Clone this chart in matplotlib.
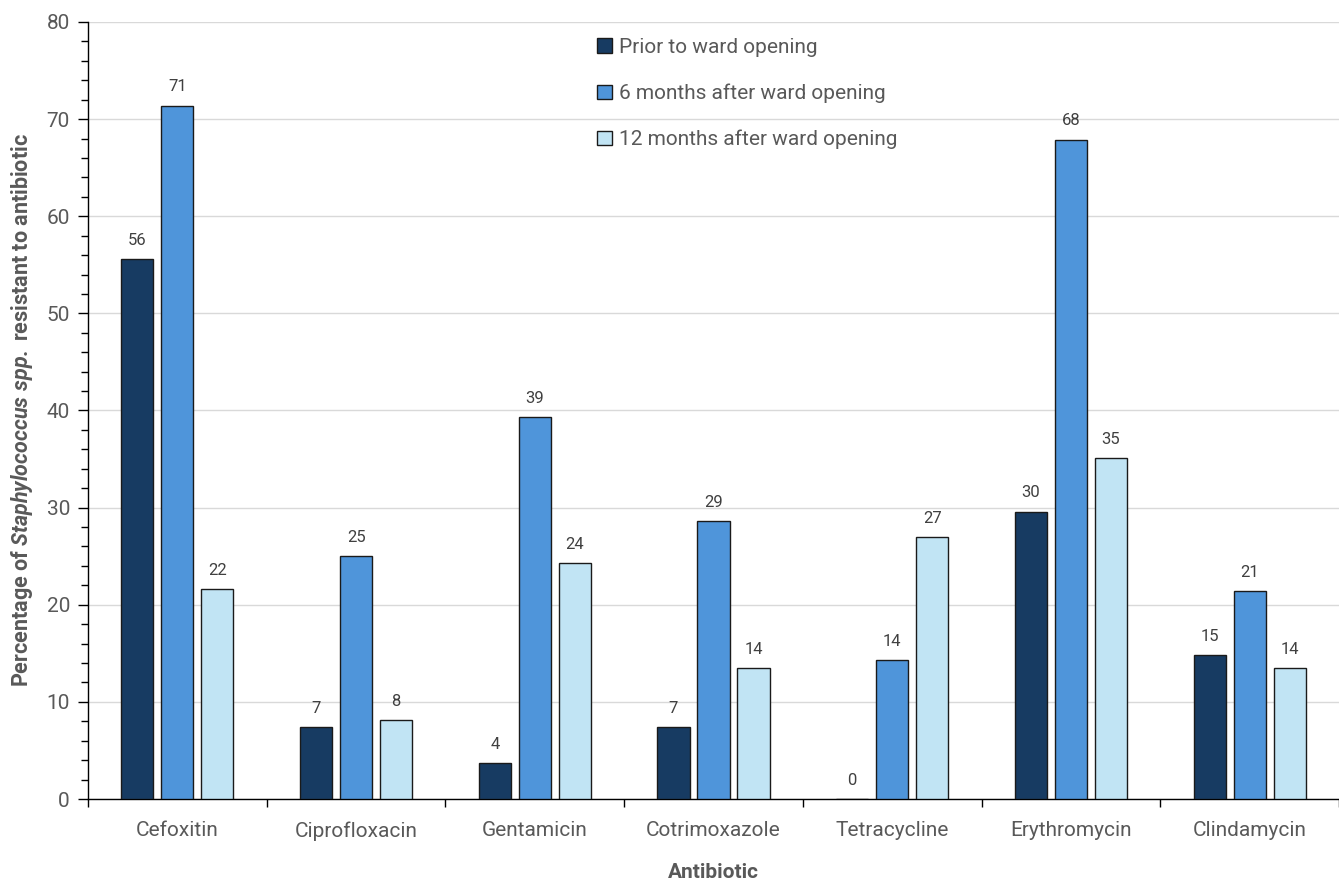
import matplotlib
matplotlib.use("Agg")
import matplotlib.pyplot as plt
import numpy as np
from matplotlib.ticker import MultipleLocator

plt.rcParams['font.family'] = ['Roboto', 'DejaVu Sans']
plt.rcParams['mathtext.fontset'] = 'custom'
plt.rcParams['mathtext.it'] = 'Roboto:italic:bold'
plt.rcParams['mathtext.rm'] = 'Roboto:bold'

categories = ["Cefoxitin", "Ciprofloxacin", "Gentamicin", "Cotrimoxazole",
              "Tetracycline", "Erythromycin", "Clindamycin"]
series_names = ["Prior to ward opening", "6 months after ward opening",
                "12 months after ward opening"]
prior = [55.6, 7.4, 3.7, 7.4, 0.0, 29.6, 14.8]
six_months = [71.4, 25.0, 39.3, 28.6, 14.3, 67.9, 21.4]
twelve_months = [21.6, 8.1, 24.3, 13.5, 27.0, 35.1, 13.5]
colors = ["#173B62", "#4F95DA", "#C1E4F4"]

text_color = "#595959"

fig = plt.figure(figsize=(13.39, 8.8), dpi=100)
ax = fig.add_axes([88/1339, 81/880, 1 - 88/1339, (799-22)/880])

x = np.arange(len(categories))
bw = 0.18
step = 0.224
for i, (vals, name, col) in enumerate(zip([prior, six_months, twelve_months], series_names, colors)):
    pos = x + (i - 1) * step
    ax.bar(pos, vals, width=bw, color=col, edgecolor="#1a1a1a", linewidth=1.0,
           label=name, zorder=3)
    for xp, v in zip(pos, vals):
        ax.annotate(f"{v:.0f}", (xp, v), xytext=(0, 8), textcoords="offset points",
                    ha="center", va="bottom", fontsize=12, color="#404040")

ax.set_xlim(-0.5, len(categories) - 0.5)
ax.set_ylim(0, 80)
ax.yaxis.set_major_locator(MultipleLocator(10))
ax.yaxis.set_minor_locator(MultipleLocator(2))
ax.grid(axis="y", which="major", color="#D9D9D9", linewidth=1.0, zorder=0)
ax.set_axisbelow(True)

ax.set_xticks(x)
ax.set_xticklabels(categories)
ax.set_xticks(np.arange(len(categories) + 1) - 0.5, minor=True)
ax.tick_params(axis="x", which="major", length=0, pad=16, labelsize=15, labelcolor=text_color)
ax.tick_params(axis="x", which="minor", length=6, width=1, direction="out", color="black")
ax.tick_params(axis="y", which="major", length=7, width=1, direction="out", labelsize=15,
               labelcolor=text_color, pad=6)
ax.tick_params(axis="y", which="minor", length=5, width=1, direction="out")

for s in ["top", "right"]:
    ax.spines[s].set_visible(False)
for s in ["left", "bottom"]:
    ax.spines[s].set_color("black")
    ax.spines[s].set_linewidth(1.0)

ax.set_xlabel("Antibiotic", fontsize=15, fontweight="bold", color=text_color, va="center")
ax.xaxis.set_label_coords(0.5, -73/777)
ax.set_ylabel(r"Percentage of $\mathit{Staphylococcus\ spp.}$ resistant to antibiotic",
              fontsize=15.5, fontweight="bold", color=text_color, va="center")
ax.yaxis.set_label_coords(-66/1251, 0.5)

leg = ax.legend(loc="upper left", bbox_to_anchor=(0.392, 1.0035), frameon=False,
                fontsize=15, labelcolor=text_color, handlelength=0.7, handleheight=0.7,
                handletextpad=0.35, labelspacing=1.28)
for h in leg.legend_handles:
    h.set_edgecolor("#1a1a1a")
    h.set_linewidth(1.0)

fig.savefig("out.png", dpi=100)
